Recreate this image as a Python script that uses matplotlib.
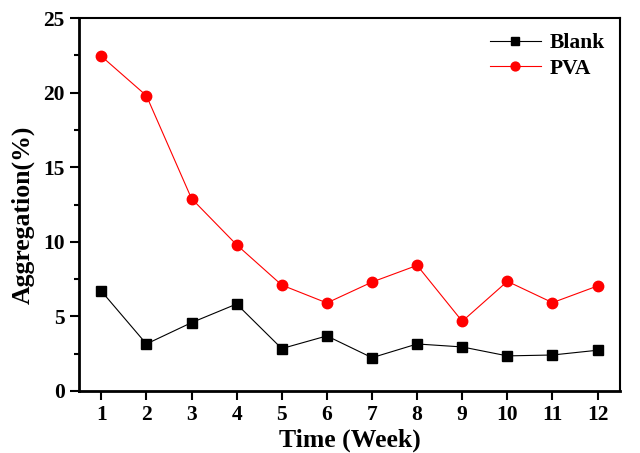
import matplotlib
matplotlib.use("Agg")
import matplotlib.pyplot as plt
from matplotlib.ticker import MultipleLocator

# data
weeks = [1, 2, 3, 4, 5, 6, 7, 8, 9, 10, 11, 12]
blank = [6.7, 3.15, 4.58, 5.83, 2.84, 3.69, 2.23, 3.15, 2.95, 2.35, 2.41, 2.73]
pva = [22.45, 19.8, 12.9, 9.8, 7.1, 5.9, 7.3, 8.42, 4.67, 7.35, 5.92, 7.04]

plt.rcParams["font.family"] = "Liberation Serif"
plt.rcParams["font.weight"] = "bold"

fig = plt.figure(figsize=(6.4, 4.53), dpi=100)
ax = fig.add_axes([0.123, 0.137, 0.846, 0.823])

ax.plot(weeks, blank, color="black", lw=0.8, marker="s", ms=6.5, label="Blank")
ax.plot(weeks, pva, color="red", lw=0.8, marker="o", ms=7.5, label="PVA")

ax.set_xlim(0.5, 12.5)
ax.set_ylim(0, 25)
ax.set_xticks(weeks)
ax.yaxis.set_major_locator(MultipleLocator(5))
ax.yaxis.set_minor_locator(MultipleLocator(2.5))

ax.tick_params(axis="both", which="both", direction="out", top=False, right=False,
               labelsize=15.5, width=1.5)
ax.tick_params(which="major", length=6.5)
ax.tick_params(which="minor", length=3.5)

for side in ["left", "bottom"]:
    ax.spines[side].set_linewidth(2)
for side in ["top", "right"]:
    ax.spines[side].set_linewidth(1.5)

ax.set_xlabel("Time (Week)", fontsize=18.5, fontweight="bold", labelpad=3)
ax.set_ylabel("Aggregation(%)", fontsize=18.5, fontweight="bold")
ax.yaxis.set_label_coords(-0.082, 0.473)

leg = ax.legend(loc="upper right", frameon=False, fontsize=15.5, handlelength=2.4,
                borderaxespad=0.3, labelspacing=0.25, handletextpad=0.4,
                markerscale=0.85)

fig.savefig("out.png", dpi=100)
